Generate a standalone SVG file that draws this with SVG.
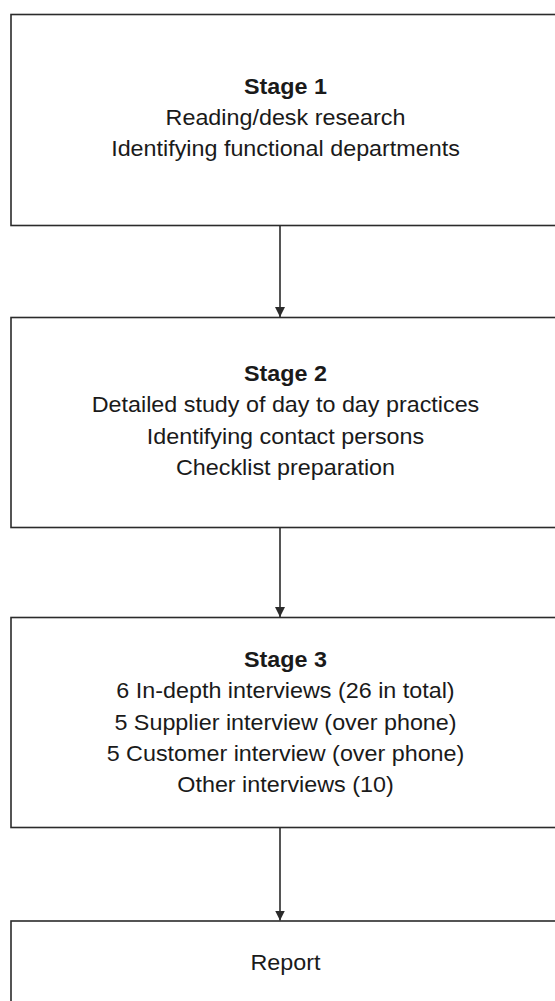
<svg xmlns="http://www.w3.org/2000/svg" width="555" height="1001" viewBox="0 0 555 1001">
<style>
.box{fill:#ffffff;stroke:#2b2b2b;stroke-width:1.6}
.t{font-family:"Liberation Sans",Arial,sans-serif;font-size:21.5px;fill:#1a1a1a;text-anchor:middle}
.b{font-weight:bold}
.c{stroke:#2b2b2b;stroke-width:1.6;fill:none}
</style>
<defs>
<marker id="ah" viewBox="0 0 10 10" refX="10" refY="5" markerWidth="10" markerHeight="10" markerUnits="userSpaceOnUse" orient="auto">
<path d="M0,0 L10,5 L0,10 Z" fill="#2b2b2b"/>
</marker>
</defs>
<rect width="555" height="1001" fill="#ffffff"/>
<g id="stage1">
<rect class="box" x="11" y="14.5" width="560" height="211"/>
<g transform="translate(285.5,0) scale(1.085,1) translate(-285.5,0)">
<text class="t b" x="285.5" y="94">Stage 1</text>
<text class="t" x="285.5" y="125.5">Reading/desk research</text>
<text class="t" x="285.5" y="156.5">Identifying functional departments</text>
</g>
</g>
<g id="stage2">
<rect class="box" x="11" y="317.5" width="560" height="210"/>
<g transform="translate(285.5,0) scale(1.085,1) translate(-285.5,0)">
<text class="t b" x="285.5" y="381">Stage 2</text>
<text class="t" x="285.5" y="412">Detailed study of day to day practices</text>
<text class="t" x="285.5" y="444">Identifying contact persons</text>
<text class="t" x="285.5" y="475">Checklist preparation</text>
</g>
</g>
<g id="stage3">
<rect class="box" x="11" y="617.5" width="560" height="210"/>
<g transform="translate(285.5,0) scale(1.085,1) translate(-285.5,0)">
<text class="t b" x="285.5" y="667">Stage 3</text>
<text class="t" x="285.5" y="698.5">6 In-depth interviews (26 in total)</text>
<text class="t" x="285.5" y="730">5 Supplier interview (over phone)</text>
<text class="t" x="285.5" y="761">5 Customer interview (over phone)</text>
<text class="t" x="285.5" y="792">Other interviews (10)</text>
</g>
</g>
<g id="report">
<rect class="box" x="11" y="921" width="560" height="100"/>
<g transform="translate(285.5,0) scale(1.085,1) translate(-285.5,0)">
<text class="t" x="285.5" y="970.5">Report</text>
</g>
</g>
<g id="connectors">
<line class="c" x1="280" y1="225.5" x2="280" y2="317" marker-end="url(#ah)"/>
<line class="c" x1="280" y1="527.5" x2="280" y2="617" marker-end="url(#ah)"/>
<line class="c" x1="280" y1="827.5" x2="280" y2="920.5" marker-end="url(#ah)"/>
</g>
</svg>
